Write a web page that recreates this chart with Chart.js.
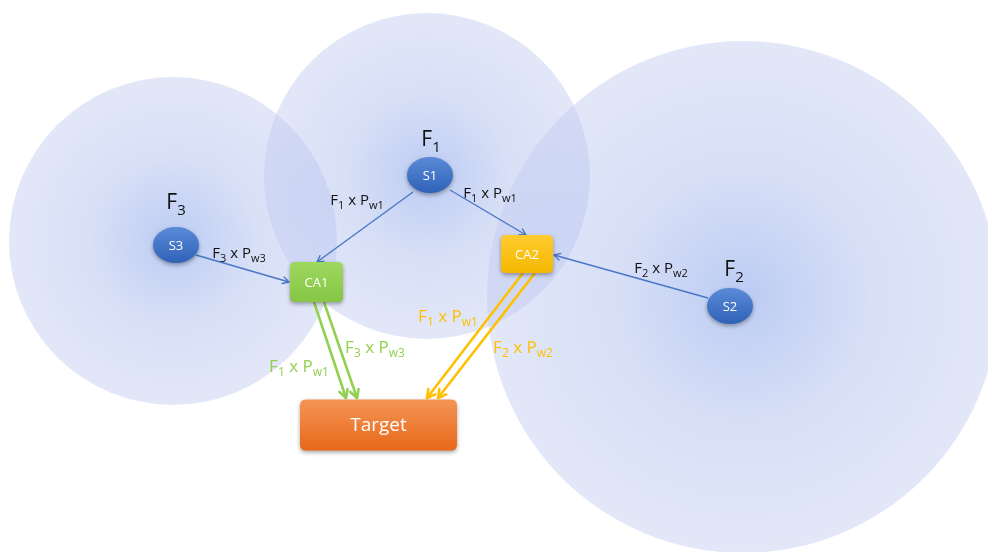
<!DOCTYPE html>
<html>
<head>
<meta charset="utf-8">
<script src="https://cdn.jsdelivr.net/npm/chart.js@4.4.0/dist/chart.umd.min.js"></script>
<style>
html,body{margin:0;padding:0;background:#fff;overflow:hidden}
</style>
</head>
<body>
<canvas id="diagram" width="988" height="552"></canvas>
<script>
// coverage zones (centre + radius, in diagram units)
const zoneX = [173, 427, 743]
const zoneY = [241, 176, 297]
const zoneR = [164, 163, 256]

// nodes
const nodeNames = ['S1', 'S2', 'S3', 'CA1', 'CA2', 'Target']
const nodeX = [430, 730, 176, 316.5, 527, 378.5]
const nodeY = [175, 306, 245, 282, 254, 425]
const nodeKind = ['sensor', 'sensor', 'sensor', 'ca1', 'ca2', 'target']

// links: start / end points
const linkX1 = [413, 450, 196, 708, 314, 324, 523, 535]
const linkY1 = [192, 190, 255, 298, 302, 302, 273, 273]
const linkX2 = [317, 526, 289, 554, 346, 357, 427, 438]
const linkY2 = [262, 235, 282, 255, 398, 398, 398, 398]
const linkKind = ['blue', 'blue', 'blue', 'blue', 'green', 'green', 'gold', 'gold']

// text labels ("_" starts a subscript, ends at a space)
const labelText = ['F_1', 'F_3', 'F_2',
  'F_1 x P_w1', 'F_1 x P_w1', 'F_3 x P_w3', 'F_2 x P_w2',
  'F_1 x P_w1', 'F_3 x P_w3', 'F_1 x P_w1', 'F_2 x P_w2']
const labelX = [431, 176, 734, 357, 490, 239, 661, 299, 375, 448, 523]
const labelY = [139, 202, 269, 200, 193, 253, 268, 366, 347, 316, 347]
const labelKind = ['head', 'head', 'head', 'black', 'black', 'black', 'black', 'green', 'green', 'gold', 'gold']


// styles
const lineStyle = {
  blue: {color: '#4a76c8', width: 1.4, head: 7},
  green: {color: '#92d050', width: 2.6, head: 9},
  gold: {color: '#ffc000', width: 2.6, head: 9}
}
const nodeStyle = {
  sensor: {w: 46, h: 36, top: '#5a8ad8', bottom: '#2f62b8'},
  ca1: {w: 53, h: 40, top: '#9dd85f', bottom: '#86c545', r: 5},
  ca2: {w: 52, h: 38, top: '#ffcb2e', bottom: '#f5b800', r: 5},
  target: {w: 157, h: 51, top: '#f49555', bottom: '#e8681a', r: 6}
}
const labelStyle = {
  head: {color: '#111111', size: 21},
  black: {color: '#111111', size: 15},
  green: {color: '#92d050', size: 17},
  gold: {color: '#ffc000', size: 17}
}
const FONT = '"Open Sans", "DejaVu Sans", sans-serif'


const datasets = []

datasets.push({
  label: 'zones',
  data: zoneX.map((x, i) => ({x: x, y: zoneY[i]})),
  pointRadius: 0,
  showLine: false
})

linkKind.forEach((k, i) => {
  datasets.push({
    label: 'link' + i,
    data: [{x: linkX1[i], y: linkY1[i]}, {x: linkX2[i], y: linkY2[i]}],
    showLine: true,
    borderColor: lineStyle[k].color,
    borderWidth: lineStyle[k].width,
    pointRadius: 0,
    fill: false
  })
})

datasets.push({
  label: 'nodes',
  data: nodeX.map((x, i) => ({x: x, y: nodeY[i]})),
  pointRadius: 0,
  showLine: false
})

datasets.push({
  label: 'labels',
  data: labelX.map((x, i) => ({x: x, y: labelY[i]})),
  pointRadius: 0,
  showLine: false
})


function roundRect(ctx, x, y, w, h, r) {
  ctx.beginPath()
  ctx.moveTo(x + r, y)
  ctx.lineTo(x + w - r, y)
  ctx.quadraticCurveTo(x + w, y, x + w, y + r)
  ctx.lineTo(x + w, y + h - r)
  ctx.quadraticCurveTo(x + w, y + h, x + w - r, y + h)
  ctx.lineTo(x + r, y + h)
  ctx.quadraticCurveTo(x, y + h, x, y + h - r)
  ctx.lineTo(x, y + r)
  ctx.quadraticCurveTo(x, y, x + r, y)
  ctx.closePath()
}

function splitLabel(txt) {
  const parts = []
  let cur = '', sub = false
  for (const ch of txt) {
    if (ch === '_') { if (cur) parts.push({t: cur, sub: sub}); cur = ''; sub = true; continue }
    if (ch === ' ' && sub) { parts.push({t: cur, sub: true}); cur = ' '; sub = false; continue }
    cur += ch
  }
  if (cur) parts.push({t: cur, sub: sub})
  return parts
}

const zonePlugin = {
  id: 'zones',
  beforeDatasetsDraw(chart) {
    const ctx = chart.ctx
    const xs = chart.scales.x
    const pts = chart.getDatasetMeta(0).data
    ctx.save()
    pts.forEach((p, i) => {
      const r = xs.getPixelForValue(zoneX[i] + zoneR[i]) - xs.getPixelForValue(zoneX[i])
      const g = ctx.createRadialGradient(p.x, p.y, 0, p.x, p.y, r)
      g.addColorStop(0, 'rgba(140,168,235,0.6)')
      g.addColorStop(0.5, 'rgba(168,185,236,0.45)')
      g.addColorStop(1, 'rgba(192,202,240,0.45)')
      ctx.fillStyle = g
      ctx.beginPath()
      ctx.arc(p.x, p.y, r, 0, Math.PI * 2)
      ctx.fill()
    })
    ctx.restore()
  }
}

const drawPlugin = {
  id: 'diagram',
  afterDatasetsDraw(chart) {
    const ctx = chart.ctx
    ctx.save()

    // arrow heads
    linkKind.forEach((k, i) => {
      const pts = chart.getDatasetMeta(i + 1).data
      const a = pts[0], b = pts[1]
      const ang = Math.atan2(b.y - a.y, b.x - a.x)
      const s = lineStyle[k]
      ctx.strokeStyle = s.color
      ctx.lineWidth = s.width
      ctx.lineCap = 'round'
      ctx.lineJoin = 'round'
      ctx.beginPath()
      ctx.moveTo(b.x - s.head * Math.cos(ang - 0.5), b.y - s.head * Math.sin(ang - 0.5))
      ctx.lineTo(b.x, b.y)
      ctx.lineTo(b.x - s.head * Math.cos(ang + 0.5), b.y - s.head * Math.sin(ang + 0.5))
      ctx.stroke()
    })

    // nodes
    const nodes = chart.getDatasetMeta(linkKind.length + 1).data
    nodes.forEach((p, i) => {
      const st = nodeStyle[nodeKind[i]]
      const g = ctx.createLinearGradient(0, p.y - st.h / 2, 0, p.y + st.h / 2)
      g.addColorStop(0, st.top)
      g.addColorStop(1, st.bottom)
      ctx.save()
      ctx.shadowColor = 'rgba(0,0,0,0.35)'
      ctx.shadowBlur = 4
      ctx.shadowOffsetY = 2
      ctx.fillStyle = g
      if (nodeKind[i] === 'sensor') {
        ctx.beginPath()
        ctx.ellipse(p.x, p.y, st.w / 2, st.h / 2, 0, 0, Math.PI * 2)
        ctx.fill()
      } else {
        roundRect(ctx, p.x - st.w / 2, p.y - st.h / 2, st.w, st.h, st.r)
        ctx.fill()
      }
      ctx.restore()
      ctx.fillStyle = '#ffffff'
      ctx.font = (nodeKind[i] === 'target' ? 19 : 13) + 'px ' + FONT
      ctx.textAlign = 'center'
      ctx.textBaseline = 'middle'
      ctx.fillText(nodeNames[i], p.x, p.y + 1)
    })

    // labels
    const labs = chart.getDatasetMeta(linkKind.length + 2).data
    labs.forEach((p, i) => {
      const st = labelStyle[labelKind[i]]
      const parts = splitLabel(labelText[i])
      const subSize = Math.round(st.size * 0.72)
      let total = 0
      parts.forEach(pt => {
        ctx.font = (pt.sub ? subSize : st.size) + 'px ' + FONT
        pt.w = ctx.measureText(pt.t).width
        total += pt.w
      })
      let x = p.x - total / 2
      ctx.fillStyle = st.color
      ctx.textAlign = 'left'
      ctx.textBaseline = 'alphabetic'
      const base = p.y + st.size * 0.35
      parts.forEach(pt => {
        ctx.font = (pt.sub ? subSize : st.size) + 'px ' + FONT
        ctx.fillText(pt.t, x, pt.sub ? base + st.size * 0.26 : base)
        x += pt.w
      })
    })

    ctx.restore()
  }
}

new Chart(document.getElementById('diagram'), {
  type: 'scatter',
  data: {datasets: datasets},
  options: {
    responsive: false,
    animation: false,
    layout: {padding: 0},
    plugins: {legend: {display: false}, tooltip: {enabled: false}},
    scales: {
      x: {type: 'linear', min: 0, max: 988, display: false},
      y: {type: 'linear', min: 0, max: 552, reverse: true, display: false}
    }
  },
  plugins: [zonePlugin, drawPlugin]
})
</script>
</body>
</html>
